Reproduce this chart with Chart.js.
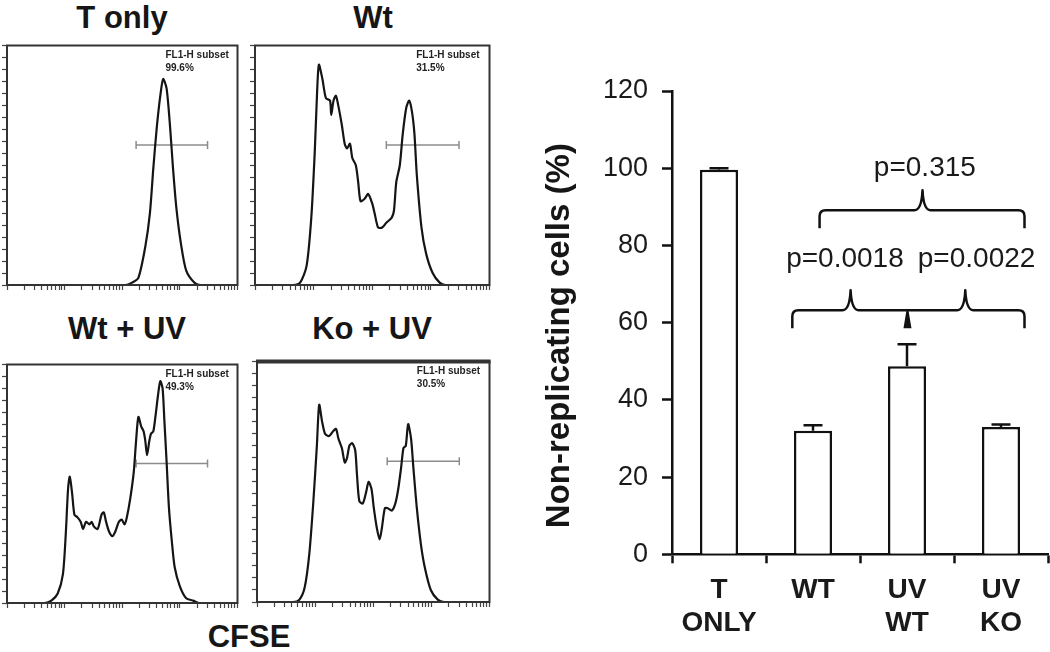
<!DOCTYPE html>
<html>
<head>
<meta charset="utf-8">
<script src="https://cdn.jsdelivr.net/npm/chart.js@4.4.1/dist/chart.umd.min.js"></script>
<style>
  html, body { margin: 0; padding: 0; background: #fff; }
  #wrap { position: relative; width: 1050px; height: 652px; overflow: hidden; background: #fff; }
  canvas { position: absolute; }
  .ttl { position: absolute; font-family: "Liberation Sans", Arial, sans-serif; font-weight: bold;
         font-size: 31px; color: #161616; transform: translate(-50%, -50%); white-space: nowrap; }
</style>
</head>
<body>
<div id="wrap">
  <div class="ttl" style="left:122px; top:18px;">T only</div>
  <div class="ttl" style="left:373px; top:18px;">Wt</div>
  <div class="ttl" style="left:127px; top:329px;">Wt + UV</div>
  <div class="ttl" style="left:372px; top:329px;">Ko + UV</div>
  <div class="ttl" style="left:249px; top:637px;">CFSE</div>
  <canvas id="p1" width="243" height="252" style="left:0px; top:40px;"></canvas>
  <canvas id="p2" width="247" height="252" style="left:248px; top:40px;"></canvas>
  <canvas id="p3" width="243" height="251" style="left:0px; top:359px;"></canvas>
  <canvas id="p4" width="245" height="253" style="left:250px; top:356px;"></canvas>
  <canvas id="bars" width="520" height="592" style="left:530px; top:60px;"></canvas>
</div>
<script>
// CFSE histograms: [log10 fluorescence, % of max count]
const tOnlyCurve = [[0,0],[2.05,0],[2.17,1],[2.28,3],[2.40,16],[2.48,30],[2.54,49],[2.60,66],[2.66,79],[2.71,86],
  [2.77,82],[2.83,66],[2.88,49],[2.94,32],[3.02,17],[3.11,6],[3.25,1],[3.35,0],[4,0]];
const wtCurve = [[0,0],[0.65,0],[0.77,1],[0.88,8],[0.96,28],[1.02,56],[1.06,81],[1.09,92],[1.15,86],[1.21,78],
  [1.28,77],[1.30,71],[1.34,77],[1.38,79],[1.42,75],[1.48,67],[1.53,59],[1.57,57],[1.62,59],[1.66,53],
  [1.72,50],[1.76,43],[1.80,35],[1.87,36],[1.93,38],[2.00,34],[2.04,30],[2.10,24],[2.17,24],[2.24,26],
  [2.33,28],[2.37,31],[2.41,43],[2.47,50],[2.52,63],[2.58,74],[2.63,77],[2.68,72],[2.72,63],[2.76,46],
  [2.84,24],[2.92,13],[3.03,5],[3.15,1],[3.25,0],[4,0]];
const wtUvCurve = [[0,0],[0.65,0],[0.77,1],[0.88,4],[0.97,12],[1.02,29],[1.06,48],[1.09,53],[1.13,46],[1.17,37],
  [1.22,36],[1.28,34],[1.32,31],[1.37,34],[1.43,33],[1.47,34],[1.51,32],[1.57,31],[1.60,33],[1.64,37],
  [1.68,38],[1.72,34],[1.77,30],[1.83,28],[1.88,30],[1.94,34],[1.99,35],[2.04,33],[2.08,36],[2.14,44],
  [2.20,55],[2.24,68],[2.28,78],[2.33,74],[2.37,72],[2.40,68],[2.43,62],[2.47,68],[2.50,71],[2.54,72],
  [2.58,79],[2.62,87],[2.66,93],[2.70,90],[2.73,77],[2.77,59],[2.81,40],[2.86,26],[2.91,15],[3.00,7],
  [3.11,2],[3.23,1],[3.33,0],[4,0]];
const koUvCurve = [[0,0],[0.62,0],[0.73,1],[0.82,6],[0.90,20],[0.97,42],[1.03,65],[1.07,82],[1.12,75],[1.17,70],
  [1.24,69],[1.31,71],[1.36,72],[1.40,68],[1.46,64],[1.51,58],[1.55,60],[1.59,65],[1.64,66],[1.69,63],
  [1.72,53],[1.76,42],[1.82,41],[1.88,46],[1.92,50],[1.97,47],[2.01,39],[2.06,31],[2.11,26],[2.15,31],
  [2.20,39],[2.25,39],[2.32,38],[2.38,41],[2.43,47],[2.48,56],[2.52,64],[2.56,65],[2.60,74],[2.65,68],
  [2.69,56],[2.75,39],[2.82,24],[2.89,14],[2.99,5],[3.11,1],[3.22,0],[4,0]];
const gateRange = [2.24, 3.48];
const gateLevel = 58.5;
const gatePercents = ['99.6%', '31.5%', '49.3%', '30.5%'];

// bar chart
const groups = [['T', 'ONLY'], 'WT', ['UV', 'WT'], ['UV', 'KO']];
const meanValues = [99.6, 32.0, 48.7, 33.0];
const errValues = [0.4, 1.4, 5.7, 0.6];
const yTicks = [0, 20, 40, 60, 80, 100, 120];
const pValues = ['p=0.315', 'p=0.0018', 'p=0.0022'];
const yTitle = 'Non-replicating cells (%)';

const FONT = '"Liberation Sans", Arial, sans-serif';
Chart.defaults.font.family = FONT;

// log decade tick marks for the CFSE axis
const logTicks = [];
for (let d = 0; d < 4; d++) {
  for (let k = 1; k < 10; k++) logTicks.push(d + Math.log10(k));
}
logTicks.push(4);

const boxPlugin = {
  id: 'boxFrame',
  afterDraw(chart, args, opts) {
    const a = chart.chartArea, ctx = chart.ctx;
    ctx.save();
    ctx.strokeStyle = '#333';
    ctx.lineWidth = 2;
    ctx.strokeRect(a.left, a.top, a.right - a.left, a.bottom - a.top);
    if (opts.topWidth) {
      ctx.lineWidth = opts.topWidth;
      ctx.beginPath();
      ctx.moveTo(a.left - 1, a.top);
      ctx.lineTo(a.right + 1, a.top);
      ctx.stroke();
    }
    // gate label
    const x = chart.scales.x.getPixelForValue(2.75);
    ctx.fillStyle = '#222';
    ctx.font = 'bold 10px ' + FONT;
    ctx.textBaseline = 'top';
    ctx.fillText('FL1-H subset', x, a.top + 5);
    ctx.fillText(opts.pct, x, a.top + 18);
    ctx.restore();
  }
};

function makePanel(id, curve, pct, topWidth) {
  new Chart(document.getElementById(id), {
    type: 'scatter',
    data: {
      datasets: [{
        data: curve.map(p => ({ x: p[0], y: p[1] })),
        showLine: true,
        borderColor: '#151515',
        borderWidth: 2.2,
        pointRadius: 0,
        tension: 0.25
      }, {
        data: gateRange.map(v => ({ x: v, y: gateLevel })),
        showLine: true,
        borderColor: '#8c8c8c',
        borderWidth: 1.5,
        pointStyle: 'line',
        rotation: 90,
        pointRadius: 4,
        pointBorderColor: '#8c8c8c',
        pointBorderWidth: 1.5
      }]
    },
    options: {
      responsive: false,
      animation: false,
      events: [],
      layout: { padding: { top: 3, right: 3, left: 2, bottom: 2 } },
      plugins: { legend: { display: false }, tooltip: { enabled: false }, boxFrame: { pct: pct, topWidth: topWidth } },
      scales: {
        x: {
          type: 'linear', min: 0, max: 4,
          afterBuildTicks: s => { s.ticks = logTicks.map(v => ({ value: v })); },
          ticks: { display: false },
          grid: { drawOnChartArea: false, tickLength: 5, tickColor: '#444', tickWidth: 1.2 },
          border: { display: false }
        },
        y: {
          min: 0, max: 100,
          ticks: { display: false, stepSize: 5 },
          grid: { drawOnChartArea: false, tickLength: 5, tickColor: '#444', tickWidth: 1.2 },
          border: { display: false }
        }
      }
    },
    plugins: [boxPlugin]
  });
}

makePanel('p1', tOnlyCurve, gatePercents[0]);
makePanel('p2', wtCurve, gatePercents[1]);
makePanel('p3', wtUvCurve, gatePercents[2]);
makePanel('p4', koUvCurve, gatePercents[3], 4);

const errorBarPlugin = {
  id: 'errorBars',
  afterDatasetsDraw(chart) {
    const ctx = chart.ctx, y = chart.scales.y;
    const meta = chart.getDatasetMeta(0);
    ctx.save();
    ctx.strokeStyle = '#111';
    ctx.lineWidth = 2.5;
    meta.data.forEach((bar, i) => {
      const yTop = y.getPixelForValue(meanValues[i] + errValues[i]);
      ctx.beginPath();
      ctx.moveTo(bar.x, bar.y);
      ctx.lineTo(bar.x, yTop);
      ctx.moveTo(bar.x - 9.5, yTop);
      ctx.lineTo(bar.x + 9.5, yTop);
      ctx.stroke();
    });
    ctx.restore();
  }
};

const bracketPlugin = {
  id: 'brackets',
  afterDraw(chart, args, opts) {
    const ctx = chart.ctx, xs = chart.scales.x, ys = chart.scales.y;
    ctx.save();
    ctx.strokeStyle = '#111';
    ctx.fillStyle = '#111';
    ctx.lineWidth = 2.5;
    ctx.lineJoin = 'round';
    opts.items.forEach(b => {
      const x1 = xs.getPixelForValue(b.from), x2 = xs.getPixelForValue(b.to);
      const yb = ys.getPixelForValue(b.y);
      ctx.beginPath();
      ctx.moveTo(x1, yb + 18);
      ctx.lineTo(x1, yb + 6);
      ctx.quadraticCurveTo(x1, yb, x1 + 6, yb);
      b.tips.forEach(t => {
        const xt = xs.getPixelForValue(t);
        ctx.lineTo(xt - 8, yb);
        ctx.quadraticCurveTo(xt - 1, yb, xt, yb - 20);
        ctx.quadraticCurveTo(xt + 1, yb, xt + 8, yb);
      });
      ctx.lineTo(x2 - 6, yb);
      ctx.quadraticCurveTo(x2, yb, x2, yb + 6);
      ctx.lineTo(x2, yb + 18);
      ctx.stroke();
      if (b.notch !== undefined) {
        const xn = xs.getPixelForValue(b.notch);
        ctx.beginPath();
        ctx.moveTo(xn - 1, yb);
        ctx.lineTo(xn + 1, yb);
        ctx.lineTo(xn + 4, yb + 18);
        ctx.lineTo(xn - 4, yb + 18);
        ctx.closePath();
        ctx.fill();
      }
    });
    ctx.font = '28px ' + FONT;
    ctx.fillStyle = '#1a1a1a';
    ctx.textAlign = 'center';
    ctx.textBaseline = 'middle';
    opts.labels.forEach((l, i) => {
      ctx.fillText(pValues[i], xs.getPixelForValue(l.x), ys.getPixelForValue(l.y));
    });
    // y axis title, sitting a little below the plot centre as in the figure
    const a = chart.chartArea;
    ctx.translate(30, (a.top + a.bottom) / 2 + 13);
    ctx.rotate(-Math.PI / 2);
    ctx.font = 'bold 33px ' + FONT;
    ctx.fillStyle = '#161616';
    ctx.fillText(yTitle, 0, 0);
    ctx.restore();
  }
};

new Chart(document.getElementById('bars'), {
  type: 'bar',
  data: {
    labels: groups,
    datasets: [{
      data: meanValues,
      backgroundColor: '#ffffff',
      borderColor: '#111',
      borderWidth: 2.5,
      barPercentage: 0.405,
      categoryPercentage: 1
    }]
  },
  options: {
    responsive: false,
    animation: false,
    events: [],
    layout: { padding: { top: 31, right: 2, left: 0, bottom: 0 } },
    plugins: {
      legend: { display: false },
      tooltip: { enabled: false },
      brackets: {
        items: [
          { from: 1.07, to: 3.25, y: 89.1, tips: [2.165] },
          { from: 0.78, to: 3.25, y: 63.2, tips: [1.40, 2.62], notch: 2.005 }
        ],
        labels: [{ x: 2.19, y: 100.1 }, { x: 1.34, y: 76.3 }, { x: 2.74, y: 76.3 }]
      }
    },
    scales: {
      x: {
        grid: { drawOnChartArea: false, offset: true, tickLength: 9, tickWidth: 2.5, tickColor: '#111' },
        border: { color: '#111', width: 2.5 },
        ticks: { font: { size: 28, weight: 'bold' }, color: '#1a1a1a', padding: 10 },
        afterFit: s => { s.height = 97.7; }
      },
      y: {
        min: 0, max: 120,
        afterBuildTicks: s => { s.ticks = yTicks.map(v => ({ value: v })); },
        ticks: { font: { size: 27 }, color: '#1a1a1a', padding: 14 },
        grid: { drawOnChartArea: false, tickLength: 10, tickWidth: 2.5, tickColor: '#111' },
        border: { color: '#111', width: 2.5 },
        afterFit: s => { s.width = 142; }
      }
    }
  },
  plugins: [errorBarPlugin, bracketPlugin]
});
</script>
</body>
</html>
